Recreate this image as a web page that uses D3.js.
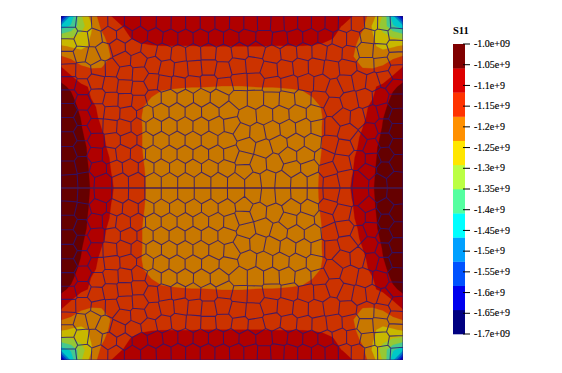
<!DOCTYPE html>
<html><head><meta charset="utf-8">
<script src="https://cdn.jsdelivr.net/npm/d3@7"></script>
<style>html,body{margin:0;padding:0;background:#fff}svg{display:block}</style>
</head><body><svg id="c" width="562" height="373"></svg>
<script>
// S11 field, corner quadrant (1e7 units); rows and columns run from the corner to the mid-lines
const fieldRows = [
[-168,-145,-130,-121,-115,-111.7,-108.5,-108,-108,-108,-108,-108,-108,-108,-108,-108,-108,-108],
[-145,-140,-132,-124.5,-116.5,-113,-112,-109.5,-109,-108.5,-108.5,-108.5,-108.5,-108.5,-108.5,-108.5,-108.5,-108.5],
[-132,-130,-127.5,-123,-119,-114.5,-112.8,-111.4,-110.5,-110,-109.8,-109.6,-109.6,-109.6,-109.6,-109.6,-109.6,-109.6],
[-122.5,-124,-125,-122.5,-120,-116.5,-113.5,-112.5,-112.2,-111.9,-111.8,-111.8,-111.8,-111.8,-111.7,-111.7,-111.7,-111.7],
[-117.3,-118.5,-120,-120.5,-120,-117.3,-114.5,-114,-113.5,-113.2,-113,-113,-113,-113,-113,-113,-113,-113],
[-111.7,-115,-117.2,-118,-117.8,-116,-115,-114.8,-114.8,-114.8,-114.8,-114.8,-114.9,-114.9,-115,-115,-115,-115],
[-107,-111.2,-114.5,-115.5,-115.7,-115,-115,-115.2,-115.4,-115.6,-115.8,-116,-116,-116,-116.1,-116.1,-116.2,-116.2],
[-105,-106.5,-110.5,-112.3,-113.7,-114.3,-114.8,-115.3,-115.8,-116.2,-116.9,-117.1,-117.3,-117.4,-117.4,-117.5,-117.6,-117.6],
[-104,-105.2,-108,-111.9,-113.5,-114.2,-115,-115.8,-116.6,-117.5,-118.5,-119,-119.2,-119.4,-119.4,-119.4,-119.4,-119.4],
[-103.5,-104.5,-106.7,-110.5,-113,-114,-115,-116,-117.3,-118.5,-119.4,-120,-120,-120,-120,-120,-120,-120],
[-103,-104,-106,-110,-112.5,-113.7,-114.8,-116,-117.5,-118.8,-120,-120,-120,-120,-120,-120,-120,-120],
[-102.5,-103.5,-105.6,-108.5,-111.7,-113.3,-114.6,-116,-117.4,-119,-120,-120,-120,-120,-120,-120,-120,-120],
[-102,-103,-105,-107.8,-111,-113,-114.5,-116,-117.4,-119,-120,-120,-120,-120,-120,-120,-120,-120],
[-101.5,-102.5,-104.5,-107,-110.5,-112.8,-114.3,-115.8,-117.4,-119,-120,-120,-120,-120,-120,-120,-120,-120],
[-101,-102,-104.3,-106.8,-109.5,-112.2,-114,-115.5,-117.2,-119,-120,-120,-120,-120,-120,-120,-120,-120],
[-101,-102,-104.1,-106.5,-109,-111.9,-113.5,-115,-117,-118.7,-120,-120,-120,-120,-120,-120,-120,-120],
[-101,-102,-104,-106.3,-108.7,-111.5,-113.2,-115,-116.9,-118.5,-120,-120,-120,-120,-120,-120,-120,-120],
[-101,-102,-104,-106.1,-108.5,-111.3,-113,-115,-116.8,-118.5,-120,-120,-120,-120,-120,-120,-120,-120]
];
// element centres read from the upper half of the plate (the lower half is its reflection)
const cellU = [7,21,38,56,72,88,104,117,132,146,161,
7,20,33,48,64,77,92,108,126,140,156,169,
8,43,57,73,88,104,117,132,147,162,
8,18,32,64,78,92,106,120,132,147,162,
8,22,38,50,64,78,8,22,35,50,64,78,91,104,117,131,146,162,
8,21,37,50,65,79,92,107,124,141,156,
8,20,36,50,65,84,100,116,132,148,164,
8,35,50,65,77,92,108,124,140,156,170,
8,20,35,50,67,84,100,116,132,148,164,
8,20,34,51,63,75,92,108,124,140,156,170,
8,22,37,54,71,87,101,116,131,149,164,
8,25,41.5,58.5,75,92,108.5,125,142,158.5,
176,190,202,217,231,244,257,271,283,297,310,323,336,
186,204,219,234,249,264,279,292,306,321,336,
179,194,211,229,244,259,272,287,306,321,336,
176,192,209,226,241,256,269,284,307,324,337,
177,194,211,229,246,261,272,286,297,312,326,337,
179,196,211,226,241,256,276,291,304,319,337,
189,206,221,236,252,282,297,312,324,337,
179,196,212,227,243,256,269,284,311,324,337,
186,204,219,234,249,269,284,301,312,324,337,
179,197,212,227,242,267,282,299,312,324,337,
184,231,246,267,309,324,337,
176,192,207,223,238,253,269,285,300,316,334];
const cellV = [6,6,6,6,6,6,5,5,5,5,5,
17,22,18,19,18,19,20,21,21,22,21,21,
28,33,31,30,33,37,39,36,35,37,
40,38,44,43,44,48,54,55,54,54,54,
54,54,54,56,57,58,68,70,66,70,71,72,68,67,68,69,67,69,
81,86,80,84,84,86,82,80,80,80,80,
94,102,96,97,98,96,97,96,97,96,97,
108,110,110,111,112,110,111,110,111,110,112,
122,118,124,123,124,124,125,124,125,124,126,
137,132,139,139,135,137,138,139,138,139,138,140,
152,148,154,154,152,152,152,152,153,152,153,
166,166,166,166,166,166,166,166,166,166,
7,8,7,8,7,8,8,8,7,9,7,5,7,
21,21,22,20,20,21,23,22,20,21,20,
35,34,37,34,34,32,34,39,32,35,30,
50,49,57,54,49,50,52,50,45,47,40,
64,60,69,69,70,69,67,64,67,69,60,55,
82,85,80,85,82,85,92,87,77,82,70,
104,99,99,99,99,102,102,104,97,85,
115,120,114,112,110,110,114,117,117,112,100,
127,134,129,127,125,130,130,127,130,125,114,
144,149,144,140,140,142,145,142,145,139,129,
154,155,154,155,155,152,144,
165,165,165,165,165,165,165,165,165,165,165];
// legend
const legendTicks = [-1.0,-1.05,-1.1,-1.15,-1.2,-1.25,-1.3,-1.35,-1.4,-1.45,-1.5,-1.55,-1.6,-1.65,-1.7];
const tickLabels = ["-1.0e+09","-1.05e+9","-1.1e+9","-1.15e+9","-1.2e+9","-1.25e+9","-1.3e+9","-1.35e+9","-1.4e+9","-1.45e+9","-1.5e+9","-1.55e+9","-1.6e+9","-1.65e+9","-1.7e+09"];
const legendColors = ["#000080","#0000ee","#0052ff","#00a0ff","#00ffff","#55ffa0","#bbff44","#ffe600","#ff9000","#ff3300","#dd0000","#800000"];
const plotColors = ["#000078","#0000c0","#0040c8","#0080c8","#00c8c8","#45c890","#95c835","#c8b800","#c87800","#cc3300","#b00000","#650000"];
const vMin=-1.7, vMax=-1.0;

const svg=d3.select("#c");
const X0=61,X1=403,Y0=16,Y1=360;
const nq=fieldRows.length, n=2*nq-1;
const full=[];
for(let j=0;j<n;j++){const r=fieldRows[j<nq?j:n-1-j];
  for(let i=0;i<n;i++) full.push(r[i<nq?i:n-1-i]);}
const bandStep=(vMax-vMin)/plotColors.length;
const thresholds=plotColors.map((c,i)=>(vMin+i*bandStep)*100);
const gx=d3.scaleLinear([0.5,n-0.5],[X0,X1]), gy=d3.scaleLinear([0.5,n-0.5],[Y0,Y1]);
svg.append("defs").append("clipPath").attr("id","pl").append("rect")
 .attr("x",X0).attr("y",Y0).attr("width",X1-X0).attr("height",Y1-Y0);
const gp=svg.append("g").attr("clip-path","url(#pl)");
const path=d3.geoPath(d3.geoTransform({point(x,y){this.stream.point(gx(x),gy(y));}}));
const cont=d3.contours().size([n,n]).thresholds(thresholds)(full);
gp.selectAll("path.b").data(cont).join("path").attr("class","b")
 .attr("d",path).attr("fill",(d,i)=>plotColors[i]).attr("stroke",(d,i)=>plotColors[i]).attr("stroke-width",0.3);

// mesh: Voronoi of the read centres, mirrored about the mid-line, relaxed to even out the cells
const sx=d3.scaleLinear([0,342],[X0,X1]), sy=d3.scaleLinear([0,344],[Y0,Y1]);
let pts=[];
cellU.forEach((u,i)=>{pts.push([sx(u),sy(cellV[i])]);pts.push([sx(u),sy(344-cellV[i])]);});
const box=[X0,Y0,X1,Y1];
for(let it=0;it<4;it++){
  const v=d3.Delaunay.from(pts).voronoi(box);
  pts=pts.map((p,i)=>{const poly=v.cellPolygon(i);return poly?d3.polygonCentroid(poly):p;});
}
const vor=d3.Delaunay.from(pts).voronoi(box);
gp.append("path").attr("d",vor.render()+vor.renderBounds())
 .attr("fill","none").attr("stroke","#261478").attr("stroke-opacity",0.8).attr("stroke-width",1.05);
// seam along the horizontal mid-line
gp.append("line").attr("x1",sx(0)).attr("x2",sx(342)).attr("y1",sy(172)).attr("y2",sy(172))
 .attr("stroke","#4a2050").attr("stroke-opacity",0.7).attr("stroke-width",1.5);

// legend
const lx=453,lw=12,ly0=44,ly1=334;
const by=d3.scaleLinear([vMin,vMax],[ly1,ly0]);
svg.append("g").selectAll("rect").data(legendColors).join("rect")
 .attr("x",lx).attr("width",lw)
 .attr("y",(c,i)=>by(vMin+(i+1)*bandStep)).attr("height",(c,i)=>by(vMin+i*bandStep)-by(vMin+(i+1)*bandStep)+0.3)
 .attr("fill",c=>c);
const ty=d3.scaleLinear([vMax,vMin],[43.5,333.5]);
const axis=d3.axisRight(ty).tickValues(legendTicks).tickSize(7).tickPadding(4)
 .tickFormat((d,i)=>tickLabels[i]);
const ag=svg.append("g").attr("transform","translate(463,0)").call(axis);
ag.select(".domain").remove();
ag.selectAll("line").attr("stroke","#000");
ag.selectAll("text").attr("font-family","'Liberation Serif',serif").attr("font-size",10).attr("fill","#000").attr("stroke","#000").attr("stroke-width",0.15);
svg.append("text").attr("x",453).attr("y",34).text("S11").attr("font-family","'Liberation Serif',serif").attr("font-size",10.5).attr("font-weight","bold").attr("fill","#000");
</script></body></html>
